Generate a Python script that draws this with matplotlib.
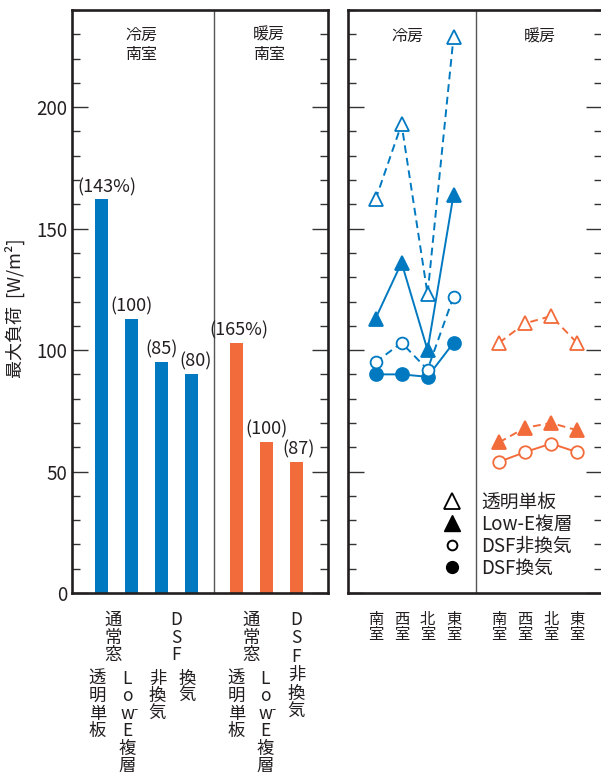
import numpy as np
import matplotlib
matplotlib.use('Agg')
import matplotlib.pyplot as plt
from matplotlib.lines import Line2D
from matplotlib.ticker import MultipleLocator
from matplotlib.transforms import blended_transform_factory, offset_copy

plt.rcParams['font.family'] = ['Noto Sans CJK JP', 'DejaVu Sans']

BLUE = '#0079c1'
ORANGE = '#f26b3a'
TXT = '#231f20'
SPINE = '#231f20'

# ---------------- data ----------------
# left panel (south room, max load)
cool_bar_labels = ['透明単板', 'Low-E複層', '非換気', '換気']
cool_group_labels = ['通常窓', 'DSF']
cool_bar_values = [162, 113, 95, 90]
cool_bar_pct = ['(143%)', '(100)', '(85)', '(80)']
warm_bar_labels = ['透明単板', 'Low-E複層', 'DSF非換気']
warm_group_labels = ['通常窓']
warm_bar_values = [103, 62, 54]
warm_bar_pct = ['(165%)', '(100)', '(87)']

# right panel (by room orientation)
rooms = ['南室', '西室', '北室', '東室']
series_names = ['透明単板', 'Low-E複層', 'DSF非換気', 'DSF換気']
cool_clear = [162, 193, 123, 229]
cool_lowe = [113, 136, 100, 164]
cool_dsf_nv = [95, 103, 92, 122]
cool_dsf_v = [90, 90, 89, 103]
warm_clear = [103, 111, 114, 103]
warm_lowe = [62, 68, 70, 67]
warm_dsf_nv = [54, 58, 61.5, 58]

# ---------------- figure ----------------
W, H = 601, 774
fig = plt.figure(figsize=(W / 100, H / 100), dpi=100)


def px_axes(l, t, r, b):
    return fig.add_axes([l / W, 1 - b / H, (r - l) / W, (b - t) / H])


ax1 = px_axes(72, 10, 328, 593)
ax2 = px_axes(348, 10, 602, 593)

for ax in (ax1, ax2):
    ax.set_ylim(0, 240)
    for s in ax.spines.values():
        s.set_linewidth(1.9)
        s.set_color(SPINE)
    ax.yaxis.set_major_locator(MultipleLocator(50))
    ax.yaxis.set_minor_locator(MultipleLocator(10))
    ax.tick_params(axis='y', which='both', direction='in', left=True, right=True,
                   color='#333333', width=1.0)
    ax.tick_params(axis='y', which='major', length=11.5, pad=3.6,
                   labelsize=13.5, labelcolor=TXT)
    ax.tick_params(axis='y', which='minor', length=5.8)
    ax.set_xticks([])

ax2.tick_params(axis='y', which='both', labelleft=False)

# ---------------- left panel: bars ----------------
x_cool = np.arange(len(cool_bar_values))
x_warm = len(cool_bar_values) + 0.5 + np.arange(len(warm_bar_values))
ax1.set_xlim(-0.983, 7.55)
ax1.bar(x_cool, cool_bar_values, width=0.43, color=BLUE)
ax1.bar(x_warm, warm_bar_values, width=0.43, color=ORANGE)
ax1.axvline((x_cool[-1] + x_warm[0]) / 2, color='#555555', lw=1.0)

pct_dx_cool = [5, 0, 0, 4]
pct_dx_warm = [2, 0, 2]
for xs, vals, labs, dxs in ((x_cool, cool_bar_values, cool_bar_pct, pct_dx_cool),
                            (x_warm, warm_bar_values, warm_bar_pct, pct_dx_warm)):
    for x, v, t, d in zip(xs, vals, labs, dxs):
        ax1.annotate(t, (x, v), xytext=(d * 0.72, 2.5), textcoords='offset points',
                     ha='center', va='bottom', fontsize=13, color=TXT)

for fx, top in ((0.27, '冷房'), (0.77, '暖房')):
    ax1.text(fx, 0.957, top, transform=ax1.transAxes, ha='center', va='center',
             fontsize=11.5, color=TXT)
    ax1.text(fx, 0.924, '南室', transform=ax1.transAxes, ha='center', va='center',
             fontsize=11.5, color=TXT)


def vtext(ax, x, y_first_px, s, pitch, fs, dx_px=0):
    trans = blended_transform_factory(ax.transData, fig.transFigure)
    cells = []
    for ch in s:
        if ch == '-' and cells:
            cells[-1] += ch
        else:
            cells.append(ch)
    for i, c in enumerate(cells):
        yc = 1 - (y_first_px + pitch * i) / H
        tr = offset_copy(trans, fig=fig, x=dx_px, y=0, units='dots')
        ax.text(x, yc, c[0], transform=tr, ha='center', va='center',
                fontsize=fs, color=TXT, clip_on=False)
        if c.endswith('-'):
            tr2 = offset_copy(trans, fig=fig, x=dx_px + 8, y=4, units='dots')
            ax.text(x, yc, '-', transform=tr2, ha='center', va='center',
                    fontsize=fs * 0.7, color=TXT, clip_on=False)


PITCH = 17.6
FS_V = 12.5
# cooling labels
vtext(ax1, (x_cool[0] + x_cool[1]) / 2, 620, cool_group_labels[0], PITCH, FS_V, -3)
vtext(ax1, (x_cool[2] + x_cool[3]) / 2, 620, cool_group_labels[1], PITCH, FS_V, 0)
for x, lab in zip(x_cool, cool_bar_labels):
    vtext(ax1, x, 678.5, lab, PITCH, FS_V, -4)
# heating labels
vtext(ax1, (x_warm[0] + x_warm[1]) / 2, 620, warm_group_labels[0], PITCH, FS_V, 0)
vtext(ax1, x_warm[0], 678.5, warm_bar_labels[0], PITCH, FS_V, 0)
vtext(ax1, x_warm[1], 678.5, warm_bar_labels[1], PITCH, FS_V, -1)
vtext(ax1, x_warm[2], 620, warm_bar_labels[2], 18.4, FS_V, 0)

fig.text(15 / W, 1 - 308.5 / H, '最大負荷  [W/m²]', rotation=90, ha='center',
         va='center', fontsize=13, color=TXT)

# ---------------- right panel: lines ----------------
xr_cool = np.arange(len(rooms))
xr_warm = len(rooms) + 0.75 + np.arange(len(rooms))
ax2.set_xlim(-1.06, 8.71)
ax2.axvline((xr_cool[-1] + xr_warm[0]) / 2, color='#555555', lw=1.0)

LW = 1.4
DASH = (4, 2.5)


def series(ax, x, y, color, marker, filled, dashed, ms, mew=1.3):
    kw = dict(color=color, lw=LW, marker=marker, ms=ms, mec=color, mew=mew,
              mfc=color if filled else 'white')
    if dashed:
        kw['dashes'] = DASH
    ax.plot(x, y, **kw)


series(ax2, xr_cool, cool_dsf_v, BLUE, 'o', True, False, 9.3)
series(ax2, xr_cool, cool_dsf_nv, BLUE, 'o', False, True, 8.5)
series(ax2, xr_cool, cool_lowe, BLUE, '^', True, False, 10.5)
series(ax2, xr_cool, cool_clear, BLUE, '^', False, True, 10)

series(ax2, xr_warm, warm_dsf_nv, ORANGE, 'o', False, False, 9)
series(ax2, xr_warm, warm_lowe, ORANGE, '^', True, True, 10.5)
series(ax2, xr_warm, warm_clear, ORANGE, '^', False, True, 10)

trans2 = blended_transform_factory(ax2.transData, fig.transFigure)
for xs in (xr_cool, xr_warm):
    for x, r in zip(xs, rooms):
        ax2.text(x, 1 - 611 / H, '\n'.join(r), transform=trans2, ha='center',
                 va='top', fontsize=11, linespacing=0.88, color=TXT, clip_on=False)

ax2.text(0.232, 0.954, '冷房', transform=ax2.transAxes, ha='center', va='center',
         fontsize=11.5, color=TXT)
ax2.text(0.756, 0.954, '暖房', transform=ax2.transAxes, ha='center', va='center',
         fontsize=11.5, color=TXT)

handles = [
    Line2D([], [], ls='none', marker='^', mfc='white', mec='black', ms=11.5, mew=1.3),
    Line2D([], [], ls='none', marker='^', mfc='black', mec='black', ms=11.5, mew=1.0),
    Line2D([], [], ls='none', marker='o', mfc='white', mec='black', ms=7, mew=1.4),
    Line2D([], [], ls='none', marker='o', mfc='black', mec='black', ms=8.5, mew=1.0),
]
ax2.legend(handles, series_names, loc='upper left', bbox_to_anchor=(0.372, 0.174),
           frameon=False, fontsize=13.5, handlelength=1.0, handletextpad=1.05,
           labelspacing=0.06, borderpad=0, borderaxespad=0, labelcolor=TXT)

fig.savefig('out.png', dpi=100)
